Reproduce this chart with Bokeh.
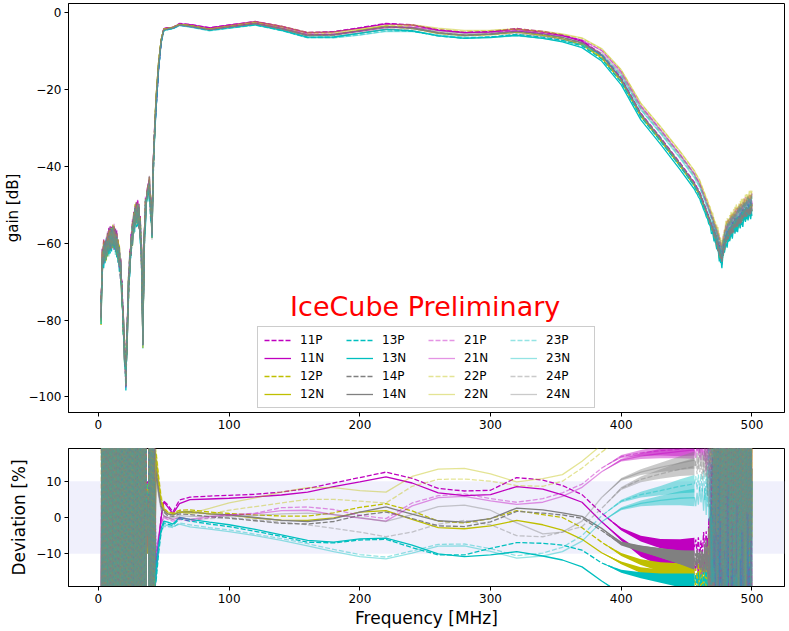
import math
from bokeh.plotting import figure
from bokeh.models import Range1d, Legend, LegendItem, BoxAnnotation, Label
from bokeh.layouts import column
from bokeh.embed import file_html
from bokeh.resources import INLINE

# ---------------- data ----------------
CHANNELS = ["11P", "11N", "12P", "12N", "13P", "13N", "14P", "14N",
            "21P", "21N", "22P", "22N", "23P", "23N", "24P", "24N"]
COLORS = ["#bf00bf", "#bf00bf", "#bfbf00", "#bfbf00", "#00bfbf", "#00bfbf", "#808080", "#808080",
          "#bf00bf", "#bf00bf", "#bfbf00", "#bfbf00", "#00bfbf", "#00bfbf", "#808080", "#808080"]
ALPHAS = [1.0] * 8 + [0.42] * 8
DASHES = ["5 2", "solid"] * 8

# low-frequency region (noisy)
F_LOW = [2, 3, 4, 5, 6, 7, 8, 9, 10, 11, 12, 13, 14, 15, 16, 17, 18, 19, 20, 21,
         22, 23, 24, 25, 26, 27, 28, 29, 30, 31, 32, 33, 34, 35, 36, 36.7, 37.5, 38.3, 39, 40,
         41, 42, 43]
GAIN_LOW = [-78, -65, -62.5, -62, -61.5, -60.5, -59.7, -59, -58.5, -58.3,
            -58.8, -59.5, -60.3, -61.8, -63.6, -67.5, -73, -80.5, -88, -95,
            -84, -72, -64.5, -60.5, -57.6, -55.2, -53.3, -52.2, -52, -53.3,
            -56.5, -64, -84, -60, -51.5, -49, -46.5, -45, -45.5, -51,
            -56, -40, -31]
LOW_AMP = [80] * 35 + [6, 10, 6, 80, 80, 80, 45, 25]

# pass band
F_MID = [44, 46, 48, 50, 53, 57, 62, 70, 85, 100, 120, 140, 160, 180, 200, 220, 240, 260, 280, 300,
         320, 340, 355, 370, 385, 400, 415, 430, 445, 456]
GAIN_MID = [-24, -14, -7.5, -4.6, -4.3, -4.0, -3.3, -3.6, -4.5, -3.8, -2.9, -4.2, -5.9, -5.8, -4.9,
            -3.9, -4.1, -5.2, -5.8, -5.6, -5.1, -5.8, -6.6, -7.9, -11.0, -16.8, -25.7, -31.9, -38.4, -43.5]
MID_NOISE_AMP = [0] * 25 + [0.4, 0.8, 1.3, 1.9, 2.4]

DEV = {
    "11P": [-16, -8, 0.5, 4.5, 3.5, 1.5, 4.8, 5.6, 5.9, 6.1, 6.4, 7.0, 8.0, 9.5, 11.0, 12.5, 10.8, 8.0, 7.3, 7.5,
            11.0, 10.3, 8.8, 6.3, 1.2, -3.2, -5.8, -7.2, -7.9, -8.0],
    "11N": [-14, -6.5, 0, 4.3, 2.9, 1.0, 3.8, 4.9, 5.1, 5.3, 5.7, 6.2, 7.0, 8.5, 9.8, 11.2, 9.5, 6.8, 6.0, 6.3,
            8.5, 7.8, 6.2, 4.2, -1.2, -6.0, -10.0, -12.0, -13.0, -13.3],
    "12P": [18, 11, 5, 2.5, 1.5, 1.2, 2.0, 2.1, 1.5, 1.1, 0.7, 0.4, 0.4, 1.3, 2.8, 3.8, 1.8, -1.0, -1.5, -0.3,
            1.9, 0.8, 0.0, -2.8, -6.8, -10.2, -12.3, -13.6, -14.5, -15.0],
    "12N": [16, 9.5, 4, 2, 1, 0.8, 1.5, 1.7, 1.0, 0.7, -0.2, -0.7, -0.8, -0.1, 1.5, 1.9, -0.5, -2.8, -3.1, -2.3,
            -0.8, -2.0, -3.5, -6.0, -9.7, -12.5, -14.5, -15.6, -16.8, -17.3],
    "13P": [-18, -10, -4, -1.5, -1.8, -2.2, -0.3, -1.0, -1.8, -2.5, -3.8, -5.2, -6.8, -7.0, -6.2, -6.0, -8.3, -10.3, -10.3, -8.5,
            -6.9, -7.1, -7.6, -9.0, -12.5, -14.8, -15.9, -16.7, -17.3, -17.8],
    "13N": [-15, -8, -3, -1, -1.3, -1.8, 0, -0.5, -1.3, -2.0, -3.3, -4.8, -6.3, -6.8, -5.9, -5.7, -7.6, -10.0, -10.8, -10.3,
            -9.4, -10.6, -11.7, -13.6, -17.5, -21, -23, -24, -25, -25],
    "14P": [15, 8, 3, 1.5, 0.5, 0.3, 1.0, 0.8, 0.2, -0.2, -0.9, -1.6, -1.8, -1.1, 0.6, 1.5, -0.3, -2.3, -2.5, -1.2,
            1.7, 1.2, 0.7, -0.2, -3.6, -7.3, -8.6, -9.8, -11, -12],
    "14N": [13, 7, 3, 2, 1, 0.7, 1.5, 1.5, 1.0, 0.7, 0.0, -0.8, -1.1, -0.3, 1.5, 2.9, 0.9, -0.9, -1.3, -0.3,
            2.6, 2.1, 1.3, 0.3, -3.0, -7.0, -8.5, -9.8, -10.9, -11.5],
    "21P": [-12, -6, -2, 0, -0.5, -1, -0.5, -1.0, 0, 0.6, 1.2, 2.7, 2.9, 2.2, 0.6, -0.3, 4.0, 6.0, 6.5, 5.2,
            4.2, 5.2, 6.8, 9.2, 13.6, 16.8, 17.8, 18.4, 18.8, 19.5],
    "21N": [-10, -5, -1.5, 0.3, 0, -0.5, 0, -0.5, 0.3, 0.8, 1.0, 1.9, 2.0, 0.8, -0.2, -1.0, 3.2, 5.5, 5.8, 4.6,
            3.6, 4.2, 5.8, 8.3, 12.6, 15.8, 16.9, 17.6, 18.2, 18.6],
    "22P": [19, 12, 6, 3, 1.5, 1, 1.5, 1.2, 1.0, 2.0, 3.0, 4.0, 5.0, 5.0, 4.5, 4.0, 8.6, 10.5, 10.6, 10.0,
            8.8, 8.6, 10.0, 13.6, 18.0, 22, 25, 27, 28, 29],
    "22N": [17, 10, 4.5, 2.5, 1.5, 1.0, 1.5, 1.1, 2.5, 4.0, 5.4, 7.0, 8.2, 8.2, 7.4, 7.0, 11.3, 13.3, 13.5, 12.0,
            9.8, 10.7, 11.8, 15.5, 20, 24, 27, 29, 30, 31],
    "23P": [-17, -9, -4, -2.5, -2.5, -2.8, -1.5, -2.0, -2.8, -3.4, -4.6, -5.8, -7.2, -8.8, -10.2, -10.9, -9.2, -7.4, -7.3, -8.6,
            -10.5, -9.8, -8.2, -5.0, 0.5, 4.5, 6.3, 7.4, 8.6, 9.3],
    "23N": [-13, -7, -3.5, -2, -2.2, -2.5, -1.8, -2.6, -3.2, -3.9, -5.0, -6.3, -7.8, -9.4, -10.8, -11.4, -9.8, -7.9, -7.8, -9.3,
            -11.2, -10.6, -9.4, -6.5, -1.2, 2.4, 3.9, 4.7, 5.3, 5.5],
    "24P": [14, 7, 2.5, 0.5, -0.3, -0.5, 0, -0.5, -0.3, 0.0, -0.6, -1.3, -2.0, -3.0, -4.0, -5.3, -4.0, -1.8, -0.8, -2.0,
            -5.0, -5.3, -4.0, -2.5, 2.5, 8.0, 10.5, 12, 13.3, 14],
    "24N": [12, 6, 2, 0.5, 0, 0, 0.5, 0.3, 0.3, 0.3, 0.6, 1.0, 1.2, 0.8, 0.0, -1.1, 0.8, 3.0, 3.4, 2.0,
            -1.5, -4.5, -4.0, -1.0, 5.5, 10.5, 12.5, 13.8, 15, 15.8],
}

# high-frequency region (noisy), 1 MHz steps
F_HIGH = list(range(457, 501))
GAIN_HIGH = [-44.2, -44.8, -45.4, -46.0, -46.9, -47.8, -48.7, -49.6, -50.5, -51.4,
             -52.3, -53.3, -54.3, -55.3, -56.3, -57.4, -58.5, -59.7, -60.9, -62.0,
             -62.8, -61.0, -59.2, -58.0, -57.2, -56.6, -56.0, -55.5, -55.0, -54.6,
             -54.2, -53.8, -53.4, -53.0, -52.6, -52.2, -51.8, -51.4, -51.1, -50.8,
             -50.5, -50.2, -49.9, -49.7]
HIGH_AMP = [2.4, 2.6, 2.8, 3.0, 3.3, 3.6, 4.0, 4.5, 6, 9, 13, 18, 24, 30, 36, 42] + [50] * 28

# measured noise texture (fraction of local amplitude)
NOISE = [0.8, -0.6, 0.9, -1.0, 0.5, -0.7, 1.0, -0.4, 0.7, -0.9, 0.6, -0.8, 0.95, -0.5, 0.4, -1.0,
         0.85, -0.65, 0.75, -0.9, 1.0, -0.55, 0.6, -0.85, 0.9, -0.7, 0.5, -1.0, 0.8, -0.6, 0.95, -0.75,
         0.65, -0.9, 0.7, -0.5, 1.0, -0.8, 0.55, -0.95, 0.85, -0.6, 0.9, -0.7]
CH_DB = [0.5, 0.3, 0.2, -0.1, -0.5, -0.8, 0.1, 0.3, 0.6, 0.4, 0.2, 0.0, -0.4, -0.6, -0.2, 0.1]

TOP_Y_TICKS = [0, -20, -40, -60, -80, -100]
TOP_Y_LABELS = ["0", "\u221220", "\u221240", "\u221260", "\u221280", "\u2212100"]
BOT_Y_TICKS = [-10, 0, 10]
BOT_Y_LABELS = ["\u221210", "0", "10"]
X_TICKS = [0, 100, 200, 300, 400, 500]

FONT = "DejaVu Sans"

# ---------------- figures ----------------
x_range = Range1d(-22.9, 524.9)
top = figure(frame_width=716, frame_height=409, min_border_left=68, min_border_right=3,
             min_border_top=3, min_border_bottom=26, x_range=x_range,
             y_range=Range1d(-104.05, 2.3), output_backend="svg", toolbar_location=None)
bot = figure(frame_width=716, frame_height=138, min_border_left=68, min_border_right=3,
             min_border_top=10, min_border_bottom=43, x_range=x_range,
             y_range=Range1d(-19, 19), output_backend="svg", toolbar_location=None)

for p in (top, bot):
    p.grid.visible = False
    p.outline_line_color = "black"
    p.outline_line_alpha = 1
    p.outline_line_width = 1
    for ax in (p.xaxis[0], p.yaxis[0]):
        ax.axis_line_color = "black"
        ax.major_tick_line_color = "black"
        ax.minor_tick_line_color = None
        ax.major_tick_in = 0
        ax.major_tick_out = 4
        ax.major_label_standoff = 3
        ax.major_label_text_font = FONT
        ax.major_label_text_font_size = "12px"
        ax.major_label_text_color = "black"
        ax.axis_label_text_font = FONT
        ax.axis_label_text_font_style = "normal"
        ax.axis_label_text_color = "black"
        ax.axis_label_standoff = 4
    p.xaxis.ticker = X_TICKS

top.yaxis.ticker = TOP_Y_TICKS
top.yaxis.major_label_overrides = dict(zip(TOP_Y_TICKS, TOP_Y_LABELS))
top.yaxis.axis_label = "gain [dB]"
top.yaxis.axis_label_text_font_size = "15px"
bot.yaxis.ticker = BOT_Y_TICKS
bot.yaxis.major_label_overrides = dict(zip(BOT_Y_TICKS, BOT_Y_LABELS))
bot.yaxis.axis_label = "Deviation [%]"
bot.yaxis.axis_label_text_font_size = "17px"
bot.xaxis.axis_label = "Frequency [MHz]"
bot.xaxis.axis_label_text_font_size = "17px"
bot.xaxis.axis_label_standoff = 2

bot.add_layout(BoxAnnotation(bottom=-10, top=10, fill_color="#e6e6fa", fill_alpha=0.6,
                             line_color=None, level="underlay"))

n = len(NOISE)
items = []
for k, ch in enumerate(CHANNELS):
    dev_mid = DEV[ch]
    base = dev_mid[-1]
    dev_low = [LOW_AMP[j] * NOISE[(j + 5 * k) % n] for j in range(len(F_LOW))]
    dev_high = [base + HIGH_AMP[j] * NOISE[(j + 7 * k) % n] for j in range(len(F_HIGH))]
    g_low = [GAIN_LOW[j] + CH_DB[k] + 0.04 * dev_low[j] for j in range(len(F_LOW))]
    g_mid = [GAIN_MID[j] + 20 * math.log10(1 + dev_mid[j] / 100) for j in range(len(F_MID))]
    g_high = [GAIN_HIGH[j] + 20 * math.log10(1 + base / 100) + 0.03 * (dev_high[j] - base)
              for j in range(len(F_HIGH))]
    xs = F_LOW + F_MID + F_HIGH
    style = dict(line_color=COLORS[k], line_alpha=ALPHAS[k], line_dash=DASHES[k], line_width=1.3)
    r = top.line(xs, g_low + g_mid + g_high, **style)
    bot.line(xs, dev_low + dev_mid + dev_high, **style)
    bot.varea(x=F_MID, y1=[d - a for d, a in zip(dev_mid, MID_NOISE_AMP)],
              y2=[d + a for d, a in zip(dev_mid, MID_NOISE_AMP)],
              fill_color=COLORS[k], fill_alpha=ALPHAS[k])
    items.append(LegendItem(label=ch, renderers=[r]))

legend = Legend(items=items, location="bottom_center", orientation="vertical", nrows=4,
                label_text_font=FONT, label_text_font_size="12px", label_text_color="black",
                glyph_width=27, glyph_height=14, label_height=14, label_width=42,
                label_standoff=9, spacing=4, padding=6, margin=4,
                border_line_color="#cccccc", border_line_alpha=1,
                background_fill_color="white", background_fill_alpha=0.8)
top.add_layout(legend)

top.add_layout(Label(x=250, y=-76.5, text="IceCube Preliminary", text_color="red",
                     text_font=FONT, text_font_size="27px", text_align="center",
                     text_baseline="middle"))

layout = column(top, bot)
open("out.html", "w").write(file_html(layout, INLINE))
